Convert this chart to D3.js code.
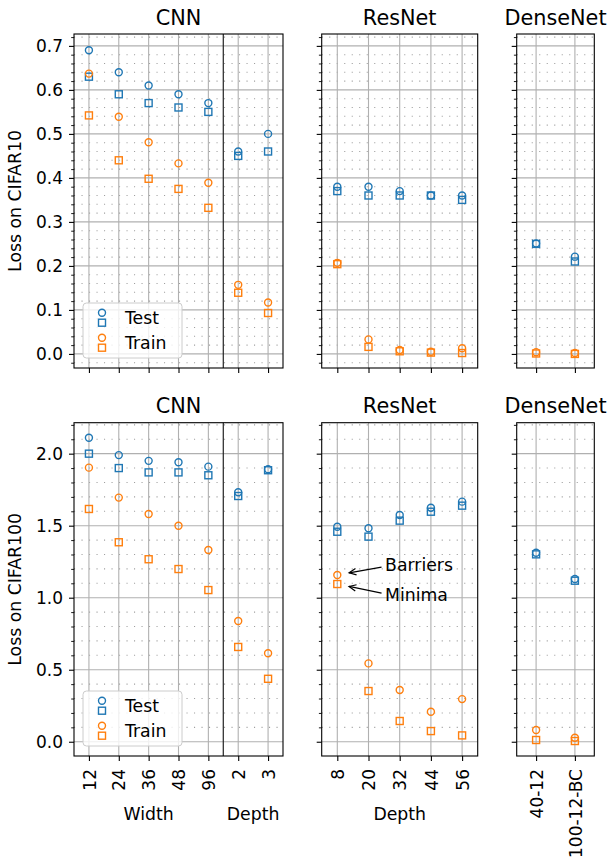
<!DOCTYPE html>
<html><head><meta charset="utf-8">
<script src="https://cdn.jsdelivr.net/npm/d3@7"></script>
<style>
body{margin:0;background:#fff}
text{font-family:"DejaVu Sans",sans-serif;fill:#000}
</style>
</head><body>
<svg id="c" width="611" height="860"></svg>
<script>
// ---------- categories ----------
const cnnLabels = ["12","24","36","48","96","2","3"];
const resnetLabels = ["8","20","32","44","56"];
const densenetLabels = ["40-12","100-12-BC"];
const panelTitles = ["CNN","ResNet","DenseNet"];
const rowLabels = ["Loss on CIFAR10","Loss on CIFAR100"];

// ---------- tick labels ----------
const yTicksC10 = [0.0,0.1,0.2,0.3,0.4,0.5,0.6,0.7];
const yTicksC100 = [0.0,0.5,1.0,1.5,2.0];

// ---------- CIFAR10 values ----------
const cnnC10TestBarrier  = [0.690,0.640,0.610,0.590,0.570,0.460,0.500];
const cnnC10TestMinima   = [0.630,0.590,0.570,0.560,0.550,0.450,0.460];
const cnnC10TrainBarrier = [0.637,0.539,0.481,0.433,0.389,0.157,0.117];
const cnnC10TrainMinima  = [0.542,0.440,0.398,0.375,0.332,0.139,0.093];

const resC10TestBarrier  = [0.380,0.380,0.370,0.360,0.360];
const resC10TestMinima   = [0.370,0.360,0.360,0.360,0.350];
const resC10TrainBarrier = [0.207,0.033,0.009,0.005,0.013];
const resC10TrainMinima  = [0.204,0.016,0.006,0.003,0.002];

const denC10TestBarrier  = [0.251,0.221];
const denC10TestMinima   = [0.250,0.210];
const denC10TrainBarrier = [0.004,0.002];
const denC10TrainMinima  = [0.001,0.000];

// ---------- CIFAR100 values ----------
const cnnC100TestBarrier  = [2.110,1.990,1.950,1.940,1.910,1.732,1.892];
const cnnC100TestMinima   = [2.000,1.900,1.870,1.870,1.850,1.706,1.885];
const cnnC100TrainBarrier = [1.903,1.695,1.581,1.500,1.331,0.838,0.614];
const cnnC100TrainMinima  = [1.616,1.385,1.267,1.199,1.053,0.658,0.437];

const resC100TestBarrier  = [1.493,1.482,1.574,1.625,1.667];
const resC100TestMinima   = [1.458,1.424,1.535,1.597,1.639];
const resC100TrainBarrier = [1.158,0.544,0.359,0.208,0.296];
const resC100TrainMinima  = [1.095,0.352,0.144,0.074,0.044];

const denC100TestBarrier  = [1.312,1.130];
const denC100TestMinima   = [1.301,1.118];
const denC100TrainBarrier = [0.081,0.028];
const denC100TrainMinima  = [0.012,0.005];

// ---------- styling ----------
const blue = "#1f77b4", orange = "#ff7f0e";
const gridColor = "#b0b0b0";
const svg = d3.select("#c");

const rowsGeom = [{top:34,bottom:368},{top:422.7,bottom:756}];
const colsGeom = [{left:74,right:283},{left:321.7,right:477.7},{left:516.7,right:594.3}];
const yDomains = [[-0.032,0.727],[-0.099,2.215]];
const yMajor = [yTicksC10, yTicksC100];
const yMinorStep = [0.02, 0.1];
const yFmt = d3.format(".1f");
const TICK_FS = "17px", LABEL_FS = "17.3px", TITLE_FS = "20.8px";

const data = [
  [
    {labels:cnnLabels, tb:cnnC10TestBarrier, tm:cnnC10TestMinima, rb:cnnC10TrainBarrier, rm:cnnC10TrainMinima},
    {labels:resnetLabels, tb:resC10TestBarrier, tm:resC10TestMinima, rb:resC10TrainBarrier, rm:resC10TrainMinima},
    {labels:densenetLabels, tb:denC10TestBarrier, tm:denC10TestMinima, rb:denC10TrainBarrier, rm:denC10TrainMinima}
  ],
  [
    {labels:cnnLabels, tb:cnnC100TestBarrier, tm:cnnC100TestMinima, rb:cnnC100TrainBarrier, rm:cnnC100TrainMinima},
    {labels:resnetLabels, tb:resC100TestBarrier, tm:resC100TestMinima, rb:resC100TrainBarrier, rm:resC100TrainMinima},
    {labels:densenetLabels, tb:denC100TestBarrier, tm:denC100TestMinima, rb:denC100TrainBarrier, rm:denC100TrainMinima}
  ]
];

const R = 3.5, SQ = 3.5, MSW = 1.4;
function circles(g, xs, ys, vals, color){
  g.selectAll(null).data(vals).enter().append("circle")
    .attr("cx",(d,i)=>xs(i)).attr("cy",d=>ys(d)).attr("r",R)
    .attr("fill","none").attr("stroke",color).attr("stroke-width",MSW);
}
function squares(g, xs, ys, vals, color){
  g.selectAll(null).data(vals).enter().append("rect")
    .attr("x",(d,i)=>xs(i)-SQ).attr("y",d=>ys(d)-SQ).attr("width",2*SQ).attr("height",2*SQ)
    .attr("fill","none").attr("stroke",color).attr("stroke-width",MSW);
}

const scales = [[],[]];

for (let r=0;r<2;r++){
  const rg = rowsGeom[r];
  const ys = d3.scaleLinear().domain(yDomains[r]).range([rg.bottom, rg.top]);
  const step = yMinorStep[r];
  const minor = d3.range(-30,40).map(k=>+(k*step).toFixed(4))
     .filter(v=>v>=yDomains[r][0] && v<=yDomains[r][1])
     .filter(v=>!yMajor[r].some(m=>Math.abs(m-v)<1e-6));
  for (let c=0;c<3;c++){
    const cg = colsGeom[c];
    const d = data[r][c];
    const n = d.labels.length;
    const xs = d3.scaleLinear().domain([-0.5, n-0.5]).range([cg.left, cg.right]);
    scales[r][c] = {xs, ys};
    const g = svg.append("g");

    // minor grid (dotted)
    g.append("g").selectAll("line").data(minor).enter().append("line")
      .attr("x1",cg.left).attr("x2",cg.right)
      .attr("y1",v=>ys(v)).attr("y2",v=>ys(v))
      .attr("stroke","#a0a0a0").attr("stroke-width",1.1)
      .attr("stroke-dasharray","1.1,6.4");
    // major grid
    g.append("g").selectAll("line").data(yMajor[r]).enter().append("line")
      .attr("x1",cg.left).attr("x2",cg.right)
      .attr("y1",v=>ys(v)).attr("y2",v=>ys(v))
      .attr("stroke",gridColor).attr("stroke-width",1.1);
    g.append("g").selectAll("line").data(d3.range(n)).enter().append("line")
      .attr("x1",i=>xs(i)).attr("x2",i=>xs(i))
      .attr("y1",rg.top).attr("y2",rg.bottom)
      .attr("stroke",gridColor).attr("stroke-width",1.1);

    // divider between width and depth for CNN
    if (c===0){
      g.append("line").attr("x1",xs(4.5)).attr("x2",xs(4.5))
        .attr("y1",rg.top).attr("y2",rg.bottom)
        .attr("stroke","#222").attr("stroke-width",1.2);
    }

    // markers
    const mg = g.append("g");
    circles(mg, xs, ys, d.tb, blue);
    squares(mg, xs, ys, d.tm, blue);
    circles(mg, xs, ys, d.rb, orange);
    squares(mg, xs, ys, d.rm, orange);

    // spines
    g.append("rect").attr("x",cg.left).attr("y",rg.top)
      .attr("width",cg.right-cg.left).attr("height",rg.bottom-rg.top)
      .attr("fill","none").attr("stroke","#000").attr("stroke-width",1.1);

    // y axis (major)
    const ya = d3.axisLeft(ys).tickValues(yMajor[r]).tickSize(5).tickPadding(6)
      .tickFormat(c===0 ? yFmt : ()=> "");
    const yag = g.append("g").attr("transform",`translate(${cg.left},0)`).call(ya);
    yag.select(".domain").remove();
    yag.selectAll(".tick line").attr("stroke","#000").attr("stroke-width",1.1);
    yag.selectAll(".tick text").style("font-size",TICK_FS).style("font-family","DejaVu Sans").attr("fill","#000");
    // y axis (minor)
    const yam = d3.axisLeft(ys).tickValues(minor).tickSize(2.8).tickFormat(()=> "");
    const yamg = g.append("g").attr("transform",`translate(${cg.left},0)`).call(yam);
    yamg.select(".domain").remove();
    yamg.selectAll(".tick line").attr("stroke","#000").attr("stroke-width",0.9);

    // x axis
    const xa = d3.axisBottom(xs).tickValues(d3.range(n)).tickSize(5)
      .tickFormat(r===1 ? (i=>d.labels[i]) : ()=> "");
    const xag = g.append("g").attr("transform",`translate(0,${rg.bottom})`).call(xa);
    xag.select(".domain").remove();
    xag.selectAll(".tick line").attr("stroke","#000").attr("stroke-width",1.1);
    xag.selectAll(".tick text")
      .style("font-size",TICK_FS).style("font-family","DejaVu Sans").attr("fill","#000")
      .attr("text-anchor","end")
      .attr("transform","rotate(-90)")
      .attr("x",-13).attr("y",0).attr("dy","0.36em");

    // title
    svg.append("text").attr("x",(cg.left+cg.right)/2).attr("y",rg.top-9.5)
      .attr("text-anchor","middle").style("font-size",TITLE_FS).text(panelTitles[c]);
  }
  // y label
  svg.append("text")
    .attr("transform",`translate(21,${(rg.top+rg.bottom)/2}) rotate(-90)`)
    .attr("text-anchor","middle").style("font-size",LABEL_FS).text(rowLabels[r]);

  // legend
  const cg0 = colsGeom[0];
  const lx = cg0.left+9, ly = rg.bottom-10-55;
  const lg = svg.append("g").attr("transform",`translate(${lx},${ly})`);
  lg.append("rect").attr("width",99).attr("height",55).attr("rx",3.5)
    .attr("fill","rgba(255,255,255,0.8)").attr("stroke","#cccccc").attr("stroke-width",1);
  const legendItems = [{name:"Test",color:blue,y0:9.7},{name:"Train",color:orange,y0:34.7}];
  legendItems.forEach(it=>{
    lg.append("circle").attr("cx",19).attr("cy",it.y0).attr("r",R)
      .attr("fill","none").attr("stroke",it.color).attr("stroke-width",MSW);
    lg.append("rect").attr("x",19-SQ).attr("y",it.y0+10-SQ).attr("width",2*SQ).attr("height",2*SQ)
      .attr("fill","none").attr("stroke",it.color).attr("stroke-width",MSW);
    lg.append("text").attr("x",42).attr("y",it.y0+10.8).style("font-size",LABEL_FS).text(it.name);
  });
}

// x labels (bottom row)
const sC = scales[1][0], sR = scales[1][1];
svg.append("text").attr("x",(sC.xs(0)+sC.xs(4))/2).attr("y",820).attr("text-anchor","middle")
  .style("font-size",LABEL_FS).text("Width");
svg.append("text").attr("x",(sC.xs(5)+sC.xs(6))/2).attr("y",820).attr("text-anchor","middle")
  .style("font-size",LABEL_FS).text("Depth");
svg.append("text").attr("x",(colsGeom[1].left+colsGeom[1].right)/2).attr("y",820).attr("text-anchor","middle")
  .style("font-size",LABEL_FS).text("Depth");

// annotations in CIFAR100 ResNet panel
const ann = [
  {text:"Barriers", px:sR.xs(0), py:sR.ys(resC100TrainBarrier[0]), tx:sR.xs(1.53), ty:sR.ys(1.226), off:2},
  {text:"Minima",   px:sR.xs(0), py:sR.ys(resC100TrainMinima[0]),  tx:sR.xs(1.53), ty:sR.ys(1.018), off:-2}
];
ann.forEach(a=>{
  svg.append("text").attr("x",a.tx).attr("y",a.ty).attr("dy","0.36em")
    .style("font-size",LABEL_FS).text(a.text);
  const tailX = a.tx-3.5, tailY = a.ty + a.off;
  const dx = tailX-a.px, dy = tailY-a.py, L = Math.hypot(dx,dy);
  const ux = dx/L, uy = dy/L;
  const hx = a.px+ux*12, hy = a.py+uy*12;
  svg.append("line").attr("x1",tailX).attr("y1",tailY).attr("x2",hx).attr("y2",hy)
    .attr("stroke","#000").attr("stroke-width",1.2);
  const hl = 7, hw = 3.2;
  const bx = hx+ux*hl, by = hy+uy*hl;
  svg.append("path")
    .attr("d",`M${bx-uy*hw},${by+ux*hw}L${hx},${hy}L${bx+uy*hw},${by-ux*hw}`)
    .attr("fill","none").attr("stroke","#000").attr("stroke-width",1.2);
});
</script>
</body></html>
